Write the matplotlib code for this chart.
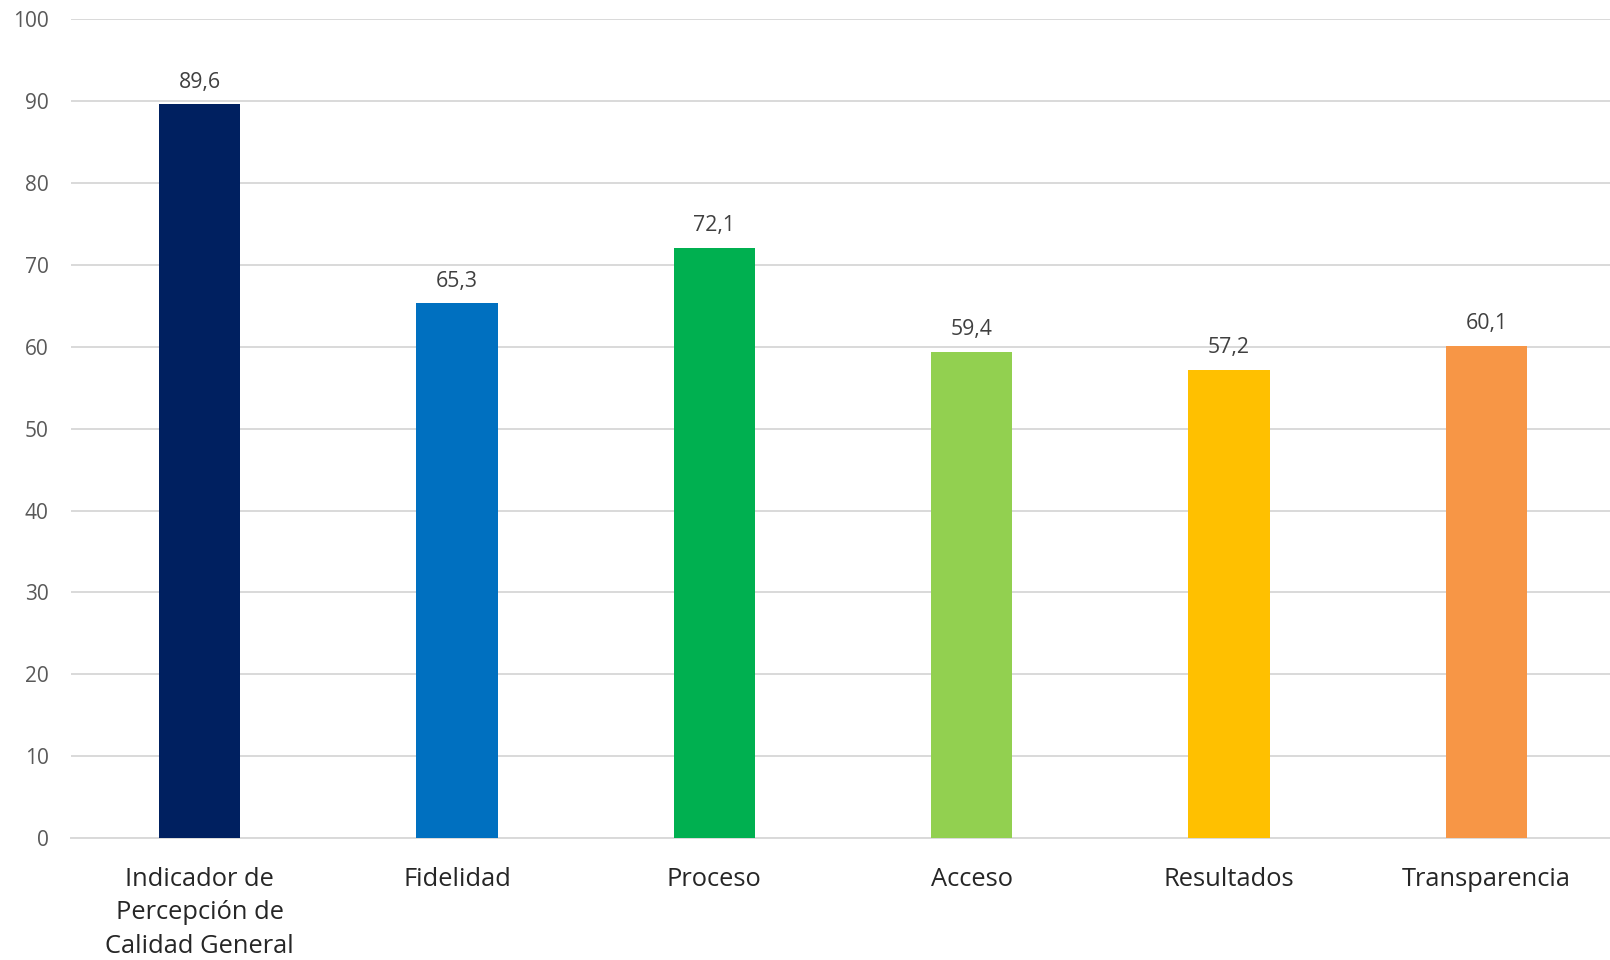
import matplotlib
matplotlib.use("Agg")
import matplotlib.pyplot as plt

categories = ["Indicador de\nPercepción de\nCalidad General", "Fidelidad", "Proceso",
              "Acceso", "Resultados", "Transparencia"]
values = [89.6, 65.3, 72.1, 59.4, 57.2, 60.1]
labels = ["89,6", "65,3", "72,1", "59,4", "57,2", "60,1"]
colors = ["#002060", "#0070C0", "#00B050", "#92D050", "#FFC000", "#F79646"]
yticks = [0, 10, 20, 30, 40, 50, 60, 70, 80, 90, 100]

plt.rcParams['font.family'] = ['Open Sans', 'DejaVu Sans']

fig = plt.figure(figsize=(16.1, 9.6), dpi=100)
ax = fig.add_axes([0.0441, 0.127, 0.959, 0.853])

x = list(range(len(categories)))
bars = ax.bar(x, values, width=0.316, color=colors, zorder=3)
for xi, v, lab in zip(x, values, labels):
    ax.annotate(lab, (xi, v), xytext=(0, 8.5), textcoords="offset points",
                ha="center", va="bottom", fontsize=15.3, color="#404040")

ax.set_xlim(-0.5, len(categories) - 0.5)
ax.set_ylim(0, 100)
ax.set_yticks(yticks)
ax.set_yticklabels([str(t) for t in yticks], fontsize=15, color="#595959")
ax.set_xticks(x)
ax.set_xticklabels(categories, fontsize=18.4, color="#262626", linespacing=1.47)
ax.tick_params(axis="y", length=0, pad=16)
ax.tick_params(axis="x", length=0, pad=20.5)
ax.grid(axis="y", color="#D9D9D9", linewidth=1.4, zorder=0)
for s in ["top", "right", "left"]:
    ax.spines[s].set_visible(False)
ax.spines["bottom"].set_color("#D9D9D9")
ax.spines["bottom"].set_linewidth(1.4)

fig.savefig("out.png", dpi=100, facecolor="white")
